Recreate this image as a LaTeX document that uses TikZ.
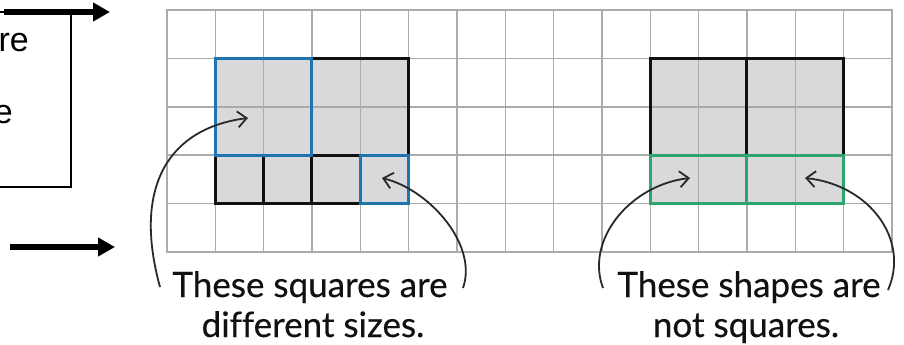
\documentclass[tikz,border=0pt]{standalone}
\usepackage{fontspec}
\newfontfamily\captfont[Ligatures=NoCommon, FakeBold=0.4]{Lato}
\newfontfamily\boxfont{Liberation Sans}
\usetikzlibrary{arrows.meta,positioning}
\definecolor{gsInk}{HTML}{111111}
\definecolor{gsGrid}{HTML}{ABABAB}
\definecolor{gsFill}{HTML}{D9D9DC}
\definecolor{gsBlue}{HTML}{1F74B0}
\definecolor{gsGreen}{HTML}{2EA56E}
\tikzset{
  gridln/.style={draw=gsGrid, line width=1.5pt, line cap=rect},
  cellfill/.style={fill=gsFill},
  sqK/.style={draw=gsInk, line width=3pt},
  sqB/.style={draw=gsBlue, line width=3pt},
  sqG/.style={draw=gsGreen, line width=3pt},
  arr/.style={-{Straight Barb[length=9pt,width=16pt]}, line width=1.8pt, draw=gsInk!90},
  bigarr/.style={-{Triangle[length=17pt,width=18pt]}, line width=5.5pt, draw=black},
  capt/.style={font=\captfont\fontsize{35}{42}\selectfont, text=gsInk, inner sep=0pt, anchor=base},
  boxtxt/.style={font=\boxfont\fontsize{34}{40}\selectfont, inner sep=0pt, anchor=base east},
}
\begin{document}
\begin{tikzpicture}[x=1pt, y=-1pt]
    \useasboundingbox (0,0) rectangle (904,345);
    \fill[white] (0,0) rectangle (904,345);
    % ---------- cut-off box on the left ----------
    \draw[line width=2.5pt] (-20,12) rectangle (71,187);
    \node[boxtxt] (boxL1) at (29,52) {are};
    \node[boxtxt] (boxL2) at (13,123) {e};
    \coordinate (topS) at (4,12); \coordinate (topE) at (110,12);
    \coordinate (botS) at (10,247); \coordinate (botE) at (115,247);
    \draw[bigarr] (topS) -- (topE);
    \draw[bigarr] (botS) -- (botE);
    % ---------- grid ----------
    \begin{scope}[shift={(167,10)}, x=48.33pt, y=-48.4pt]
        \fill[cellfill] (1,1) rectangle (5,4);
        \fill[cellfill] (10,1) rectangle (14,4);
        \foreach \i in {0,...,15} \draw[gridln] (\i,0) -- (\i,5);
        \foreach \j in {0,...,5} \draw[gridln] (0,\j) -- (15,\j);
        % squares of different sizes
        \draw[sqK] (3,1) rectangle (5,3);
        \draw[sqK] (1,3) rectangle (2,4);
        \draw[sqK] (2,3) rectangle (3,4);
        \draw[sqK] (3,3) rectangle (4,4);
        \draw[sqB] (1,1) rectangle (3,3);
        \draw[sqB] (4,3) rectangle (5,4);
        % shapes that are not squares
        \draw[sqK] (10,1) rectangle (12,3);
        \draw[sqK] (12,1) rectangle (14,3);
        \draw[sqG] (10,3) rectangle (12,4);
        \draw[sqG] (12,3) rectangle (14,4);
    \end{scope}
    % ---------- captions ----------
    \node[capt] (capSq1) at (310,297) {These squares are};
    \node[capt] (capSq2) at (313,337) {different sizes.};
    \node[capt] (capSh1) at (749,297) {These shapes are};
    \node[capt] (capSh2) at (746,337) {not squares.};
    % ---------- pointers ----------
    \coordinate (tipSqL) at (248,118); \coordinate (endSqL) at (160,287);
    \coordinate (tipSqR) at (382,178); \coordinate (endSqR) at (463,288);
    \coordinate (tipShL) at (690,178); \coordinate (endShL) at (603,288);
    \coordinate (tipShR) at (805,178); \coordinate (endShR) at (888,290);
    \draw[arr] (endSqL) .. controls (132,185) and (170,128) .. (tipSqL);
    \draw[arr] (endSqR) .. controls (478,245) and (430,190) .. (tipSqR);
    \draw[arr] (endShL) .. controls (585,240) and (630,185) .. (tipShL);
    \draw[arr] (endShR) .. controls (910,240) and (870,185) .. (tipShR);
\end{tikzpicture}
\end{document}
